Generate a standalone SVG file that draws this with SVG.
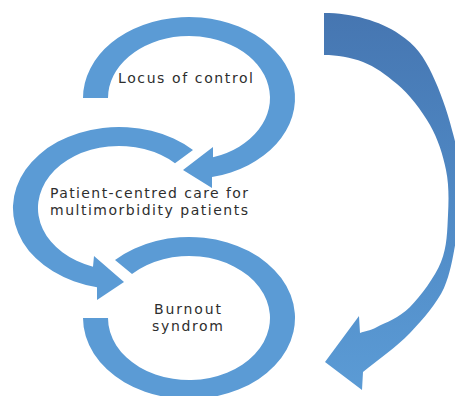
<svg xmlns="http://www.w3.org/2000/svg" width="455" height="396" viewBox="0 0 455 396">
  <defs>
    <linearGradient id="bigGrad" x1="0" y1="0" x2="0" y2="1">
      <stop offset="0" stop-color="#4676b1"/>
      <stop offset="0.5" stop-color="#4f89c5"/>
      <stop offset="1" stop-color="#5b9bd5"/>
    </linearGradient>
  </defs>
  <style>
    .arc { fill: #5b9bd5; stroke: none; }
    .big { fill: url(#bigGrad); stroke: none; }
    .lbl { font-family: "DejaVu Sans", "Open Sans", sans-serif; font-size: 14px; fill: #2e2e2e; }
  </style>
  <rect width="455" height="396" fill="#ffffff"/>
  <g id="connectors">
    <path class="arc" d="M 83,318 A 106 81 0 1 0 115,260 L 132,274 A 81 62 0 1 1 108,318 Z"/>
    <path class="arc" d="M 193,150 A 106 81 0 1 0 97,287.2 L 97,300 L 124,282 L 94,256 L 93,266.7 A 81 62 0 1 1 175,163.2 Z"/>
    <path class="arc" d="M 83,98 A 106 81 0 1 1 212,177.1 L 212,188 L 183,170 L 213,147 L 213,157.2 A 81 62 0 1 0 108,98 Z"/>
    <path class="big" d="M 324,13 C 352,13 380,21 399,34 C 416,45 424,57 432,74 C 440,91 447,110 452,130 C 457.5,149.5 462.3,171.7 463,190 C 463.7,208.3 459,223.8 456,240 C 453,256.2 451,271.5 444,288 C 437,303 423.7,318.8 410,333 C 396.3,347.2 378.7,359 363,372 L 362,390 L 325,362 L 359,316 L 360,333 C 365.7,331 368.7,331.3 377,327 C 385.3,322.7 399.3,317.8 410,307 C 420.7,296.2 434.7,277.3 441,262 C 447.3,246.7 447.2,230.3 448,215 C 448.8,199.7 449,185 446,170 C 443,155 438.2,139.5 430,125 C 421.8,110.5 409,94 397,84 C 385,74 375.2,66.7 363,62 C 350.8,57.3 337,55 324,55 Z"/>
  </g>
  <g id="node-locus">
    <text class="lbl" x="118" y="83" textLength="135" lengthAdjust="spacing">Locus of control</text>
  </g>
  <g id="node-patient-centred">
    <text class="lbl" x="50" y="198" textLength="198" lengthAdjust="spacing">Patient-centred care for</text>
    <text class="lbl" x="50" y="215" textLength="198" lengthAdjust="spacing">multimorbidity patients</text>
  </g>
  <g id="node-burnout">
    <text class="lbl" x="154" y="314" textLength="67" lengthAdjust="spacing">Burnout</text>
    <text class="lbl" x="152" y="331" textLength="71" lengthAdjust="spacing">syndrom</text>
  </g>
</svg>
